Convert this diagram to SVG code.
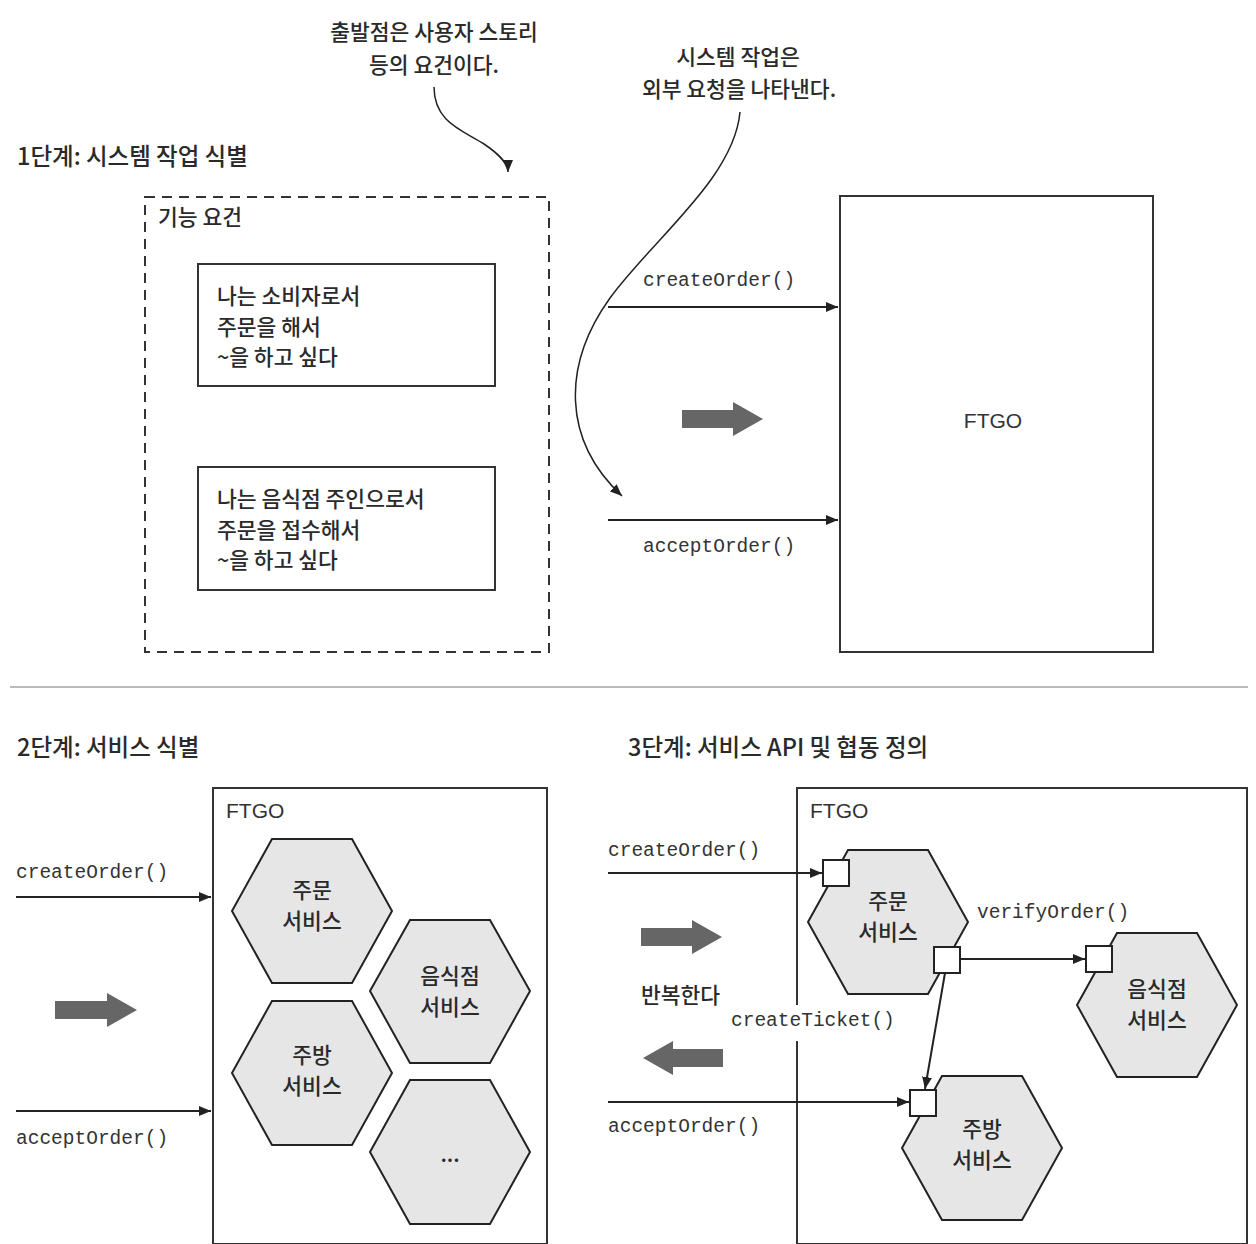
<svg xmlns="http://www.w3.org/2000/svg" width="1256" height="1244" viewBox="0 0 1256 1244">
<defs>
<style>
.k{font-family:"Noto Sans CJK KR","Noto Sans",sans-serif;font-size:21.5px;font-weight:500;fill:#2a2a2a}
.t{font-family:"Noto Sans CJK KR","Noto Sans",sans-serif;font-size:23.5px;font-weight:500;fill:#2a2a2a}
.c{font-family:"Liberation Mono","DejaVu Sans Mono",monospace;font-size:19.5px;fill:#333}
.f{font-family:"Liberation Sans","Noto Sans",sans-serif;font-size:21px;fill:#333}
.box{fill:#fff;stroke:#333;stroke-width:2}
.hex{fill:#e6e6e6;stroke:#222;stroke-width:2}
.sq{fill:#fff;stroke:#222;stroke-width:2}
.ln{fill:none;stroke:#222;stroke-width:2}
.cv{fill:none;stroke:#222;stroke-width:1.5}
.ga{fill:#666}
</style>
<marker id="ah" viewBox="0 0 12 10" refX="12" refY="5" markerWidth="12" markerHeight="10" markerUnits="userSpaceOnUse" orient="auto"><path d="M0,0 L12,5 L0,10 z" fill="#222"/></marker>
</defs>
<rect width="1256" height="1244" fill="#fff"/>

<!-- Step 1 -->
<g id="callout-start">
<text class="k" x="434" y="40" text-anchor="middle">출발점은 사용자 스토리</text>
<text class="k" x="434" y="73" text-anchor="middle">등의 요건이다.</text>
</g>
<g id="callout-sysop">
<text class="k" x="738" y="65" text-anchor="middle">시스템 작업은</text>
<text class="k" x="739" y="97" text-anchor="middle">외부 요청을 나타낸다.</text>
</g>
<text class="t" x="17" y="165">1단계: 시스템 작업 식별</text>

<g id="functional-requirements">
<rect x="145" y="197" width="404" height="455" fill="none" stroke="#333" stroke-width="2" stroke-dasharray="10 7"/>
<text class="k" x="158" y="225">기능 요건</text>
</g>
<g id="story-consumer">
<rect class="box" x="198" y="264" width="297" height="122"/>
<text class="k" x="217" y="304">나는 소비자로서</text>
<text class="k" x="217" y="335">주문을 해서</text>
<text class="k" x="217" y="365">~을 하고 싶다</text>
</g>
<g id="story-restaurant">
<rect class="box" x="198" y="467" width="297" height="123"/>
<text class="k" x="217" y="507">나는 음식점 주인으로서</text>
<text class="k" x="217" y="538">주문을 접수해서</text>
<text class="k" x="217" y="568">~을 하고 싶다</text>
</g>
<g id="ftgo-1">
<rect class="box" x="840" y="196" width="313" height="456"/>
<text class="f" x="993" y="428" text-anchor="middle">FTGO</text>
</g>
<path class="ga" d="M682,410 H733 V402 L763,419 L733,436 V428 H682 Z"/>

<!-- separator -->
<line x1="10" y1="687" x2="1248" y2="687" stroke="#bbb" stroke-width="2"/>

<!-- Step 2 -->
<text class="t" x="17" y="756">2단계: 서비스 식별</text>
<g id="ftgo-2">
<rect class="box" x="213" y="788" width="334" height="456"/>
<text class="f" x="226" y="818">FTGO</text>
</g>
<g id="s2-order">
<polygon class="hex" points="232,911 272,839 352,839 392,911 352,983 272,983"/>
<text class="k" x="312" y="898" text-anchor="middle">주문</text>
<text class="k" x="312" y="929" text-anchor="middle">서비스</text>
</g>
<g id="s2-restaurant">
<polygon class="hex" points="370,991 410,920 490,920 530,991 490,1063 410,1063"/>
<text class="k" x="450" y="984" text-anchor="middle">음식점</text>
<text class="k" x="450" y="1015" text-anchor="middle">서비스</text>
</g>
<g id="s2-kitchen">
<polygon class="hex" points="232,1073 272,1001 352,1001 392,1073 352,1145 272,1145"/>
<text class="k" x="312" y="1063" text-anchor="middle">주방</text>
<text class="k" x="312" y="1094" text-anchor="middle">서비스</text>
</g>
<g id="s2-more">
<polygon class="hex" points="370,1152 410,1080 490,1080 530,1152 490,1224 410,1224"/>
<text class="k" x="450" y="1162" text-anchor="middle">...</text>
</g>
<path class="ga" d="M55,1001 H107 V993 L137,1010 L107,1027 V1019 H55 Z"/>

<!-- Step 3 -->
<text class="t" x="628" y="756">3단계: 서비스 API 및 협동 정의</text>
<g id="ftgo-3">
<rect class="box" x="797" y="788" width="450" height="456"/>
<text class="f" x="810" y="818">FTGO</text>
</g>
<g id="s3-order">
<polygon class="hex" points="808,922 848,850 928,850 968,922 928,994 848,994"/>
<text class="k" x="888" y="909" text-anchor="middle">주문</text>
<text class="k" x="888" y="940" text-anchor="middle">서비스</text>
</g>
<g id="s3-restaurant">
<polygon class="hex" points="1077,1005 1117,933 1197,933 1237,1005 1197,1077 1117,1077"/>
<text class="k" x="1157" y="997" text-anchor="middle">음식점</text>
<text class="k" x="1157" y="1028" text-anchor="middle">서비스</text>
</g>
<g id="s3-kitchen">
<polygon class="hex" points="902,1148 942,1076 1022,1076 1062,1148 1022,1220 942,1220"/>
<text class="k" x="982" y="1137" text-anchor="middle">주방</text>
<text class="k" x="982" y="1168" text-anchor="middle">서비스</text>
</g>
<g id="ports">
<rect class="sq" x="823" y="860" width="26" height="26"/>
<rect class="sq" x="934" y="947" width="26" height="26"/>
<rect class="sq" x="1086" y="946" width="26" height="26"/>
<rect class="sq" x="910" y="1090" width="26" height="26"/>
</g>
<path class="ga" d="M641,928 H692 V920 L722,937 L692,954 V946 H641 Z"/>
<text class="k" x="641" y="1003">반복한다</text>
<path class="ga" d="M723,1049 H673 V1041 L643,1058 L673,1075 V1067 H723 Z"/>

<!-- Connectors -->
<g id="connectors">
<path class="cv" d="M434,87 C434,122 462,130 484,144 C502,156 508,166 508,172" marker-end="url(#ah)"/>
<path class="cv" d="M740,112 C734,178 654,238 610,298 C562,365 562,440 622,496" marker-end="url(#ah)"/>
<line class="ln" x1="608" y1="307" x2="838" y2="307" marker-end="url(#ah)"/>
<line class="ln" x1="608" y1="520" x2="838" y2="520" marker-end="url(#ah)"/>
<line class="ln" x1="16" y1="897" x2="211" y2="897" marker-end="url(#ah)"/>
<line class="ln" x1="16" y1="1111" x2="211" y2="1111" marker-end="url(#ah)"/>
<line class="ln" x1="608" y1="873" x2="822" y2="873" marker-end="url(#ah)"/>
<line class="ln" x1="960" y1="959" x2="1085" y2="959" marker-end="url(#ah)"/>
<line class="ln" x1="945" y1="973" x2="925" y2="1089" marker-end="url(#ah)"/>
<line class="ln" x1="608" y1="1102" x2="909" y2="1102" marker-end="url(#ah)"/>
</g>
<g id="labels">
<text class="c" x="643" y="286">createOrder()</text>
<text class="c" x="643" y="552">acceptOrder()</text>
<text class="c" x="16" y="878">createOrder()</text>
<text class="c" x="16" y="1144">acceptOrder()</text>
<text class="c" x="608" y="856">createOrder()</text>
<text class="c" x="608" y="1132">acceptOrder()</text>
<text class="c" x="977" y="918">verifyOrder()</text>
<rect x="729" y="1005" width="168" height="36" fill="#fff"/>
<text class="c" x="731" y="1026">createTicket()</text>
</g>
</svg>
